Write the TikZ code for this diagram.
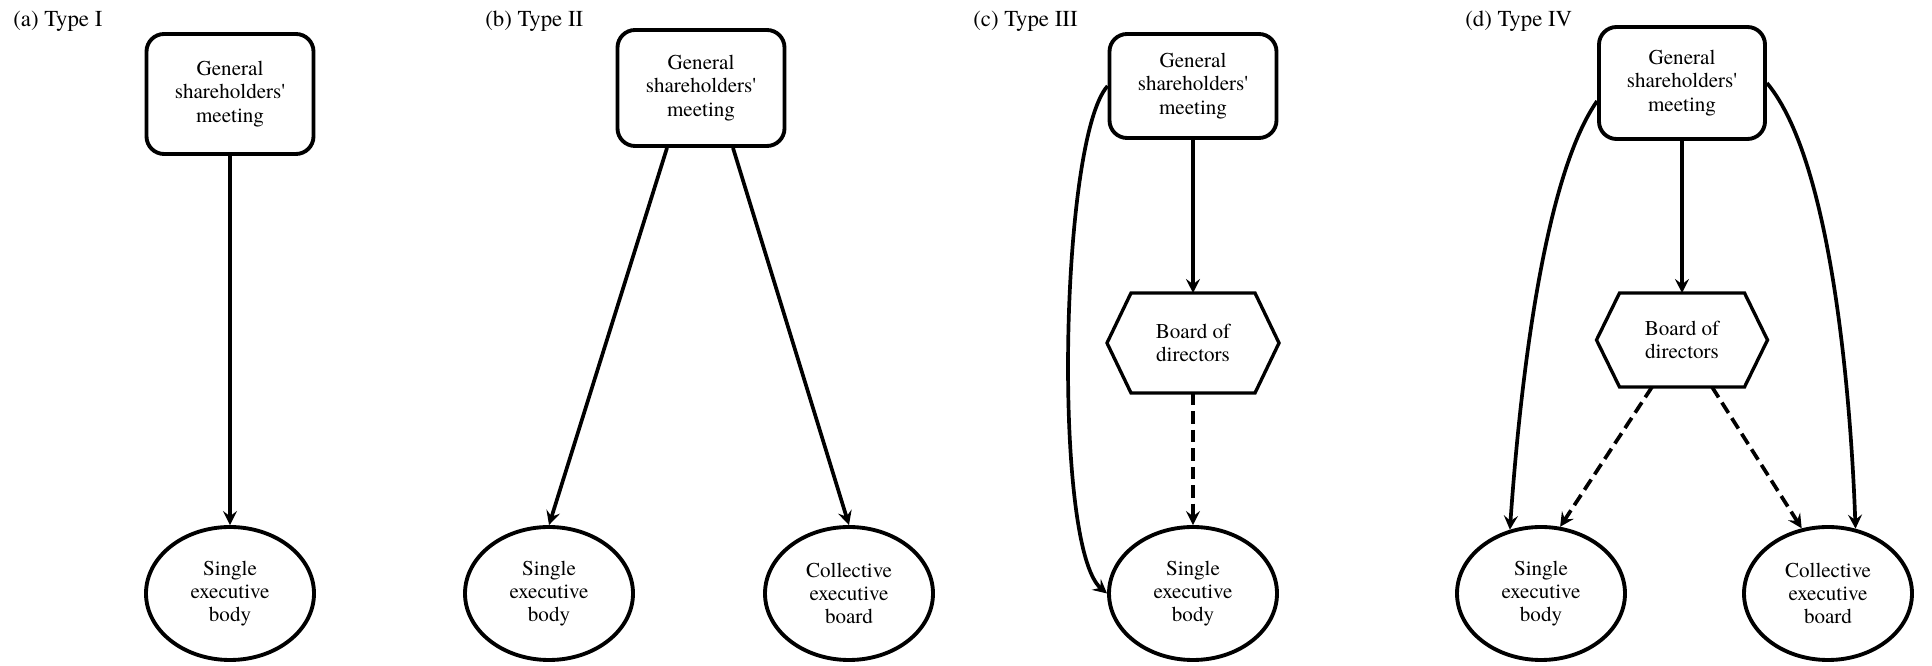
\documentclass[tikz,border=0pt]{standalone}
\usepackage{fontspec}
\setmainfont{texgyretermes}[Extension=.otf, UprightFont=*-regular,
  BoldFont=*-bold, ItalicFont=*-italic, BoldItalicFont=*-bolditalic]
\usepackage{tikz}
\usetikzlibrary{arrows.meta,positioning,shapes.geometric,calc}

% hexagon outline round a plain node (name, inset)
\newcommand{\hexframe}[2]{%
  \draw[line width=1.9pt, line join=miter]
    (#1.west) -- ([xshift=#2]#1.north west) -- ([xshift=-#2]#1.north east)
    -- (#1.east) -- ([xshift=-#2]#1.south east) -- ([xshift=#2]#1.south west)
    -- cycle;}

\begin{document}
\begin{tikzpicture}[
    box/.style={rectangle, draw, rounded corners=10pt, line width=2.2pt,
                font=\fontsize{12}{13.3}\selectfont, align=center,
                minimum width=3.34cm, inner sep=0pt},
    oval/.style={ellipse, draw, line width=2.2pt,
                 font=\fontsize{12}{13.3}\selectfont, align=center,
                 minimum width=3.36cm, minimum height=2.66cm, inner sep=0pt},
    board/.style={rectangle, outer sep=0pt, inner sep=0pt,
                  font=\fontsize{12}{13.3}\selectfont, align=center},
    title/.style={anchor=base west, inner sep=0pt,
                  font=\fontsize{13}{15}\selectfont},
    arrow/.style={-{Stealth[length=8pt,width=8pt,inset=3pt]}, line width=2.1pt},
    dashedarrow/.style={arrow, dash pattern=on 7pt off 3.5pt}
]
\useasboundingbox (0,0) rectangle (38.64,-13.32);

% (a) Type I
\node[title] (tA) at (0.26, -0.54) {(a) Type I};
\node[box, minimum height=2.40cm] (gsmA) at (4.60, -1.88)
    {General\\shareholders\textquotesingle\\meeting};
\node[oval] (sebA) at (4.60, -11.87) {Single\\executive\\body};
\draw[arrow] (gsmA) -- (sebA);

% (b) Type II
\node[title] (tB) at (9.70, -0.54) {(b) Type II};
\node[box, minimum height=2.32cm] (gsmB) at (14.02, -1.76)
    {General\\shareholders\textquotesingle\\meeting};
\node[oval] (sebB) at (10.98, -11.87) {Single\\executive\\body};
\node[oval] (cebB) at (16.98, -11.87) {Collective\\executive\\board};
\draw[arrow] ([xshift=-0.68cm]gsmB.south) -- (sebB.north);
\draw[arrow] ([xshift=0.64cm]gsmB.south) -- (cebB.north);

% (c) Type III
\node[title] (tC) at (19.46, -0.54) {(c) Type III};
\node[box, minimum height=2.08cm] (gsmC) at (23.86, -1.72)
    {General\\shareholders\textquotesingle\\meeting};
\node[board, minimum width=3.44cm, minimum height=2.00cm] (bodC)
    at (23.86, -6.86) {Board of\\directors};
\hexframe{bodC}{0.48cm}
\node[oval] (sebC) at (23.86, -11.87) {Single\\executive\\body};
\draw[arrow] (gsmC) -- (bodC);
\draw[dashedarrow] (bodC) -- (sebC);
\draw[arrow] (gsmC.west) to[out=228, in=140, looseness=0.36] (sebC.west);

% (d) Type IV
\node[title] (tD) at (29.30, -0.54) {(d) Type IV};
\node[box, minimum width=3.32cm, minimum height=2.24cm] (gsmD)
    at (33.64, -1.66) {General\\shareholders\textquotesingle\\meeting};
\node[board, minimum width=3.42cm, minimum height=1.88cm] (bodD)
    at (33.64, -6.80) {Board of\\directors};
\hexframe{bodD}{0.46cm}
\node[oval] (sebD) at (30.82, -11.87) {Single\\executive\\body};
\node[oval] (cebD) at (36.56, -11.87) {Collective\\executive\\board};
\draw[arrow] (gsmD) -- (bodD);
\draw[arrow] (gsmD.192) to[out=235, in=86, looseness=0.6] (sebD.116);
\draw[arrow] (gsmD.east) to[out=-50, in=92, looseness=0.6] (cebD.67);
\draw[dashedarrow] ([xshift=-0.60cm]bodD.south) -- (sebD.74);
\draw[dashedarrow] ([xshift=0.60cm]bodD.south) -- (cebD.112);

\end{tikzpicture}
\end{document}
